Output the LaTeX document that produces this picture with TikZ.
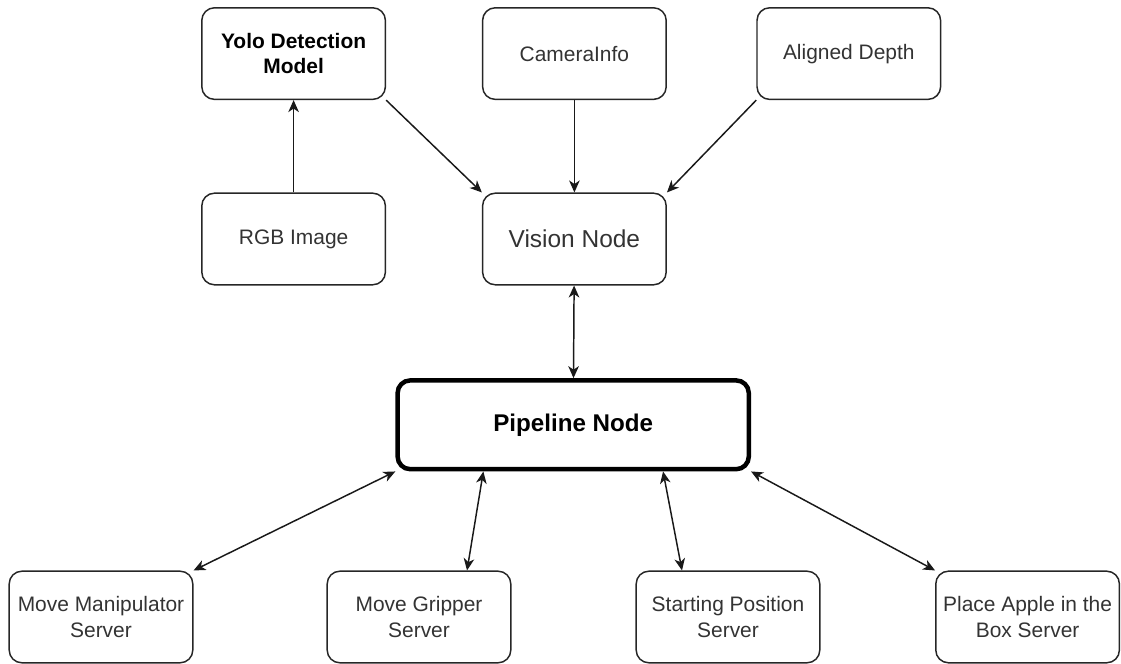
\documentclass[tikz,border=0pt]{standalone}
\usepackage{fontspec}
\setmainfont{Liberation Sans}
\usetikzlibrary{arrows.meta}

\begin{document}
\begin{tikzpicture}[n/.style={rectangle,rounded corners=9pt,draw=black!85,line width=1.05pt,minimum width=4.59cm,
            minimum height=2.29cm,align=center,text=black!80,font=\fontsize{14.9}{18.2}\selectfont},
            big/.style={font=\fontsize{17.4}{21}\selectfont},
            main/.style={n,line width=3.2pt,draw=black,minimum width=8.78cm,minimum height=2.22cm,text=black,
            font=\bfseries\fontsize{17.2}{21}\selectfont},
            a/.style={-{Stealth[length=8.5pt,width=7.5pt,inset=2.5pt]},line width=1.05pt,black!90},
            b/.style={{Stealth[length=8.5pt,width=7.5pt,inset=2.5pt]}-{Stealth[length=8.5pt,width=7.5pt,inset=2.5pt]},
            line width=1.05pt,black!90}]
            \useasboundingbox (0,0) rectangle (28.025,16.6);

            \node[n,text=black,font=\bfseries\fontsize{14.9}{18.2}\selectfont] (yolo) at (7.34,15.26) {Yolo Detection\\Model};
            \node[n] (cam) at (14.36,15.26) {CameraInfo};
            \node[n] (depth) at (21.22,15.26) {Aligned Depth};
            \node[n] (rgb) at (7.34,10.625) {RGB Image};
            \node[n,big] (vision) at (14.36,10.625) {Vision Node};

            \node[main] (pipe) at (14.33,5.98) {Pipeline Node};

            \node[n] (manip) at (2.525,1.175) {Move Manipulator\\Server};
            \node[n] (grip) at (10.475,1.175) {Move Gripper\\Server};
            \node[n] (start) at (18.2,1.175) {Starting Position\\Server};
            \node[n] (place) at (25.69,1.175) {Place Apple in the\\Box Server};

            \draw[a] (rgb) to (yolo);
            \draw[a] (yolo.south east) to (vision.north west);
            \draw[a] (cam) to (vision);
            \draw[a] (depth.south west) to (vision.north east);

            \draw[b] (vision) to (pipe);

            \draw[b] (pipe.south west) to (manip.north east);
            \draw[b] ([xshift=2.2cm]pipe.south west) to ([xshift=1.2cm]grip.north);
            \draw[b] ([xshift=-2.2cm]pipe.south east) to ([xshift=-1.15cm]start.north);
            \draw[b] (pipe.south east) to (place.north west);
\end{tikzpicture}
\end{document}
